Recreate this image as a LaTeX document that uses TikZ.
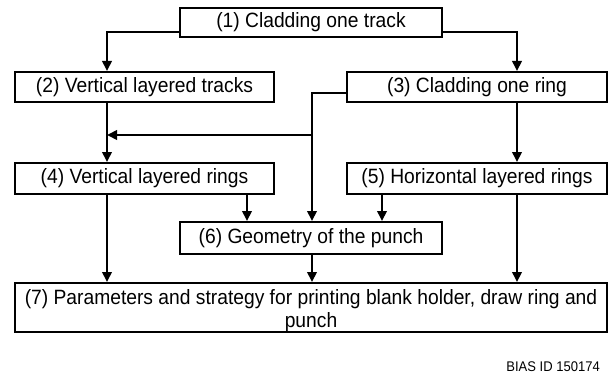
\documentclass[tikz,border=0pt]{standalone}
\usepackage{fontspec}
\setmainfont[FakeStretch=0.93]{Liberation Sans}
\usetikzlibrary{arrows.meta}
\begin{document}
\begin{tikzpicture}[x=1pt,y=-1pt,
  stepfont/.style={font=\fontsize{20.7}{23}\selectfont},
  box/.style={draw,line width=2pt,inner sep=0pt,align=center,stepfont},
  arr/.style={line width=2pt,-{Triangle[length=10pt,width=9.5pt]}}]
\useasboundingbox (0,0) rectangle (609,374);
% process steps
\node[box,minimum width=262pt,minimum height=29pt] (b1) at (311,22.5) {(1) Cladding one track};
\node[box,minimum width=259pt,minimum height=30pt] (b2) at (144.5,87) {(2) Vertical layered tracks};
\node[box,minimum width=260pt,minimum height=30pt] (b3) at (477,87) {(3) Cladding one ring};
\node[box,minimum width=259pt,minimum height=31pt] (b4) at (144.5,178.5) {(4) Vertical layered rings};
\node[box,minimum width=260pt,minimum height=31pt] (b5) at (477,178.5) {(5) Horizontal layered rings};
\node[box,minimum width=262pt,minimum height=32pt] (b6) at (311,238) {(6) Geometry of the punch};
\node[box,minimum width=592pt,minimum height=49pt] (b7) at (311,307.5) {};
\node[inner sep=0pt,align=center,stepfont] (b7text) at ([yshift=-3.5pt]b7.center)
  {(7) Parameters and strategy for printing blank holder, draw ring and\\punch};
\node[anchor=east,inner sep=0pt,font=\fontsize{14}{16}\selectfont] (bias) at (600,366.5) {BIAS ID 150174};
% junction points of the connectors
\coordinate (jL) at (107,32);
\coordinate (jR) at (517,32);
\coordinate (jM) at (312,93);
\coordinate (jH) at (312,135);
\coordinate (x4) at (247,0);
\coordinate (x5) at (382,0);
% connectors
\draw[arr] (b1.west |- jL) -- (jL) -- (jL |- b2.north);
\draw[arr] (b1.east |- jR) -- (jR) -- (jR |- b3.north);
\draw[arr] (jL |- b2.south) -- (jL |- b4.north);
\draw[arr] (b3.west |- jM) -- (jM) -- (jM |- b6.north);
\draw[arr] (jH) -- (jL |- jH);
\draw[arr] (jR |- b3.south) -- (jR |- b5.north);
\draw[arr] (x4 |- b4.south) -- (x4 |- b6.north);
\draw[arr] (x5 |- b5.south) -- (x5 |- b6.north);
\draw[arr] (jL |- b4.south) -- (jL |- b7.north);
\draw[arr] (jM |- b6.south) -- (jM |- b7.north);
\draw[arr] (jR |- b5.south) -- (jR |- b7.north);
\end{tikzpicture}
\end{document}
